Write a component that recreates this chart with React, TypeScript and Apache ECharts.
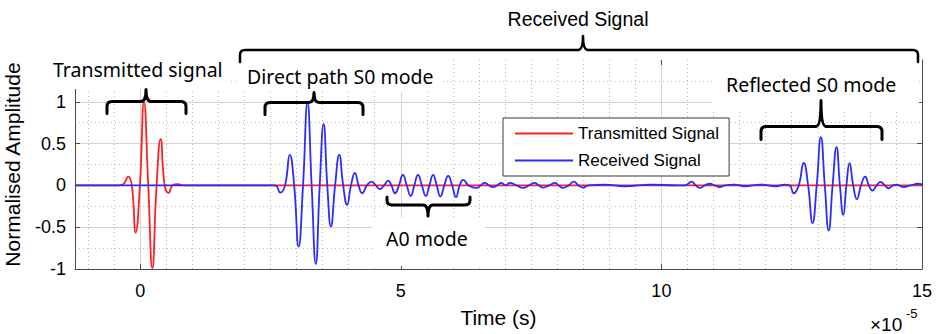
import React, { useEffect, useRef } from 'react';
import * as echarts from 'echarts';

// ---- data (time in units of 1e-5 s, normalised amplitude) ----
const xTickValues = [0, 5, 10, 15];
const yTickValues = [-1, -0.5, 0, 0.5, 1];

const transmittedTime = [
  -1.25, -0.4, -0.31, -0.23, -0.16, -0.086, -0.005, 0.073, 0.155, 0.234, 0.315, 0.393, 0.47, 0.547,
  0.62, 0.72, 0.85, 15,
];
const transmittedAmp = [
  0, 0, 0.02, 0.105, 0, -0.565, 0, 1.0, 0, -0.99, 0, 0.553, 0, -0.09, 0, 0.015, 0, 0,
];

const receivedTime = [
  -1.25, 2.58, 2.69, 2.78, 2.87, 2.955, 3.04, 3.125, 3.21, 3.29, 3.37, 3.445, 3.52, 3.59, 3.66, 3.74,
  3.82, 3.895, 3.97, 4.045, 4.12, 4.19, 4.26, 4.35, 4.44, 4.52, 4.6, 4.68, 4.76, 4.82, 4.89, 4.965,
  5.04, 5.115, 5.19, 5.26, 5.33, 5.405, 5.48, 5.55, 5.62, 5.69, 5.76, 5.835, 5.91, 5.985, 6.06, 6.13,
  6.2, 6.3, 6.45, 6.53, 6.61, 6.69, 6.77, 6.85, 6.93, 7.01, 7.09, 7.22, 7.35, 7.46, 7.57, 7.65, 7.73,
  7.85, 7.96, 8.03, 8.11, 8.22, 8.32, 8.41, 8.5, 8.6, 8.9, 9.3, 9.8, 10.3, 10.45, 10.58, 10.66, 10.74,
  10.83, 10.93, 11.02, 11.12, 11.22, 11.4, 11.6, 11.9, 12.2, 12.37, 12.46, 12.54, 12.635, 12.73,
  12.815, 12.9, 12.98, 13.06, 13.135, 13.21, 13.285, 13.36, 13.425, 13.49, 13.55, 13.61, 13.68, 13.75,
  13.83, 13.91, 13.98, 14.05, 14.13, 14.21, 14.285, 14.36, 14.44, 14.51, 14.64, 14.78, 14.93, 15,
];
const receivedAmp = [
  0, 0, -0.086, 0, 0.365, 0, -0.733, 0, 0.99, 0, -0.94, 0, 0.733, 0, -0.49, 0,
  0.365, 0, -0.233, 0, 0.15, 0, -0.094, 0, 0.046, 0, -0.045, 0, 0.058, 0, -0.094, 0,
  0.126, 0, -0.126, 0, 0.126, 0, -0.126, 0, 0.126, 0, -0.133, 0, 0.114, 0, -0.14, 0,
  0.066, 0, -0.03, 0, 0.03, 0, -0.02, 0, 0.03, 0, 0.03, 0, -0.03, 0, 0.03, 0, -0.026,
  0, 0.03, 0, -0.03, 0, 0.046, 0, -0.026, 0, 0.01, -0.01, 0.01, 0, 0, 0.046, 0, -0.03,
  0, 0.02, 0, -0.02, 0, 0.01, -0.01, 0.01, -0.01, 0.01, 0, -0.094, 0, 0.27,
  0, -0.45, 0, 0.577, 0, -0.54, 0, 0.457, 0, -0.353, 0, 0.265, 0, -0.165,
  0, 0.105, 0, -0.062, 0, 0.042, 0, -0.034, 0, 0.01, -0.02, 0, 0.02, 0.01,
];

const seriesNames = ['Transmitted Signal', 'Received Signal'];
const axisNames = { x: 'Time (s)', y: 'Normalised Amplitude' };
const annotationLabels = {
  transmitted: 'Transmitted signal',
  direct: 'Direct path S0 mode',
  received: 'Received Signal',
  reflected: 'Reflected S0 mode',
  a0: 'A0 mode',
};

// ---- styling ----
const ARIAL = '"Liberation Sans", Arial, sans-serif';
const HUMAN = '"Noto Sans", sans-serif';
const RED = '#ff1f1f';
const BLUE = '#2b2bff';
const AXIS = '#4a4a4a';
const MAJOR = '#d4d4d4';
const MINOR = '#b9b9b9';

const Brace = echarts.graphic.extendShape({
  shape: { x1: 0, x2: 0, y: 0, tip: 0, tipLen: 10, endLen: 10, dir: 1, r: 5 },
  buildPath(ctx: any, s: any) {
    const { x1, x2, y, tip, tipLen, endLen, dir, r } = s;
    ctx.moveTo(x1, y + dir * endLen);
    ctx.lineTo(x1, y + dir * r);
    ctx.quadraticCurveTo(x1, y, x1 + r, y);
    ctx.lineTo(tip - r, y);
    ctx.quadraticCurveTo(tip, y, tip, y - dir * tipLen);
    ctx.quadraticCurveTo(tip, y, tip + r, y);
    ctx.lineTo(x2 - r, y);
    ctx.quadraticCurveTo(x2, y, x2, y + dir * r);
    ctx.lineTo(x2, y + dir * endLen);
  },
});
echarts.graphic.registerShape('brace', Brace);

function brace(x1: number, x2: number, y: number, tip: number, tipLen: number, endLen: number, dir: number, lw = 3) {
  return {
    type: 'brace',
    z: 10,
    shape: { x1, x2, y, tip, tipLen, endLen, dir, r: 5 },
    style: { stroke: '#000', lineWidth: lw, fill: null, lineCap: 'round', lineJoin: 'round' },
  };
}

function label(text: string, x: number, y: number, size: number, family: string, align = 'left') {
  return {
    type: 'text',
    z: 10,
    x,
    y,
    style: {
      text,
      fill: '#000',
      fontSize: size,
      fontFamily: family,
      align,
      verticalAlign: 'middle',
      textAlign: align,
      textVerticalAlign: 'middle',
    },
  };
}

function cover(x: number, y: number, w: number, h: number) {
  return { type: 'rect', z: 1, shape: { x, y, width: w, height: h }, style: { fill: '#fff' } };
}

export default function App() {
  const ref = useRef<HTMLDivElement>(null);

  useEffect(() => {
    if (!ref.current) return;
    const chart = echarts.init(ref.current, null, { renderer: 'svg' });

    const minorX: number[] = [];
    for (let v = -1; v < 15; v += 0.5) if (v % 5 !== 0) minorX.push(v);

    const transmitted = transmittedTime.map((t, i) => [t, transmittedAmp[i]]);
    const received = receivedTime.map((t, i) => [t, receivedAmp[i]]);

    const option: any = {
      animation: false,
      backgroundColor: '#fff',
      grid: { left: 75, right: 18, top: 60, bottom: 65, containLabel: false, outerBoundsMode: 'none' },
      legend: {
        orient: 'vertical',
        left: 503,
        top: 118,
        padding: [7, 10, 7, 12],
        itemGap: 10,
        itemWidth: 58,
        itemHeight: 2,
        icon: 'rect',
        backgroundColor: '#fff',
        borderColor: '#3a3a3a',
        borderWidth: 1,
        borderRadius: 0,
        textStyle: { fontSize: 17, color: '#000', fontFamily: ARIAL },
        data: seriesNames,
      },
      xAxis: [
        {
          type: 'value',
          min: -1.25,
          max: 15,
          position: 'bottom',
          axisLine: { show: true, onZero: false, lineStyle: { color: AXIS, width: 1 } },
          axisTick: { show: true, inside: true, length: 5, customValues: xTickValues, lineStyle: { color: AXIS } },
          axisLabel: { customValues: xTickValues, fontSize: 18, color: '#000', margin: 13, fontFamily: ARIAL },
          splitLine: { show: true, lineStyle: { color: MAJOR, width: 1 } },
          name: axisNames.x,
          nameLocation: 'middle',
          nameGap: 38,
          nameTextStyle: { fontSize: 21, color: '#000', fontFamily: ARIAL },
        },
        {
          type: 'value',
          min: -1.25,
          max: 15,
          position: 'top',
          axisLine: { show: false, onZero: false },
          axisTick: { show: true, inside: true, length: 5, customValues: [0, 5, 10], lineStyle: { color: AXIS } },
          axisLabel: { show: false },
          splitLine: { show: false },
        },
        {
          type: 'value',
          min: -1.25,
          max: 15,
          axisLine: { show: false, onZero: false },
          axisTick: { show: false, customValues: minorX },
          axisLabel: { show: false },
          splitLine: { show: true, lineStyle: { color: MINOR, width: 1, type: [1, 3] } },
        },
      ],
      yAxis: [
        {
          type: 'value',
          min: -1,
          max: 1.5,
          interval: 0.5,
          position: 'left',
          axisLine: { show: true, onZero: false, lineStyle: { color: AXIS, width: 1 } },
          axisTick: { show: true, inside: true, length: 5, customValues: yTickValues, lineStyle: { color: AXIS } },
          axisLabel: { customValues: yTickValues, fontSize: 18, color: '#000', margin: 9, fontFamily: ARIAL },
          splitLine: { show: true, lineStyle: { color: MAJOR, width: 1 } },
          minorTick: { show: false, splitNumber: 2 },
          minorSplitLine: { show: true, lineStyle: { color: MINOR, width: 1, type: [1, 3] } },
          name: axisNames.y,
          nameLocation: 'middle',
          nameGap: 52,
          nameRotate: 90,
          nameTextStyle: { fontSize: 21, color: '#000', fontFamily: ARIAL },
        },
        {
          type: 'value',
          min: -1,
          max: 1.5,
          interval: 0.5,
          position: 'right',
          axisLine: { show: true, onZero: false, lineStyle: { color: AXIS, width: 1 } },
          axisTick: { show: true, inside: true, length: 5, customValues: [-0.5, 0, 0.5, 1], lineStyle: { color: AXIS } },
          axisLabel: { show: false },
          splitLine: { show: false },
        },
      ],
      series: [
        {
          type: 'line',
          name: seriesNames[0],
          xAxisIndex: 0,
          yAxisIndex: 0,
          data: transmitted,
          symbol: 'none',
          showSymbol: false,
          smooth: 0.5,
          lineStyle: { color: RED, width: 1.8 },
          itemStyle: { color: RED },
          z: 3,
        },
        {
          type: 'line',
          name: seriesNames[1],
          xAxisIndex: 0,
          yAxisIndex: 0,
          data: received,
          symbol: 'none',
          showSymbol: false,
          smooth: 0.5,
          lineStyle: { color: BLUE, width: 1.8 },
          itemStyle: { color: BLUE },
          z: 4,
        },
      ],
      graphic: [
        cover(42, 56, 186, 33),
        cover(238, 56, 204, 36),
        cover(712, 56, 207, 56),
        cover(372, 218, 113, 48),
        brace(107, 186, 101.5, 146, 12, 12, 1),
        brace(265, 363, 102.5, 314, 10, 12, 1),
        brace(761, 882, 126.5, 821, 26, 13, 1),
        brace(387, 470, 205, 428, 11, 8, -1),
        brace(240, 918, 50, 583, 14, 12, 1, 2.5),
        label(annotationLabels.transmitted, 53, 69, 19.5, HUMAN),
        label(annotationLabels.direct, 247, 76, 19.5, HUMAN),
        label(annotationLabels.reflected, 726, 84, 19.5, HUMAN),
        label(annotationLabels.a0, 386, 238, 19.5, HUMAN),
        label(annotationLabels.received, 578, 19, 19.5, ARIAL, 'center'),
        label('×10', 870, 324, 19, ARIAL),
        label('-5', 906, 313, 13, ARIAL),
      ],
    };

    chart.setOption(option);
    return () => chart.dispose();
  }, []);

  return <div ref={ref} style={{ width: 940, height: 334, position: 'absolute', left: 0, top: 0 }} />;
}
